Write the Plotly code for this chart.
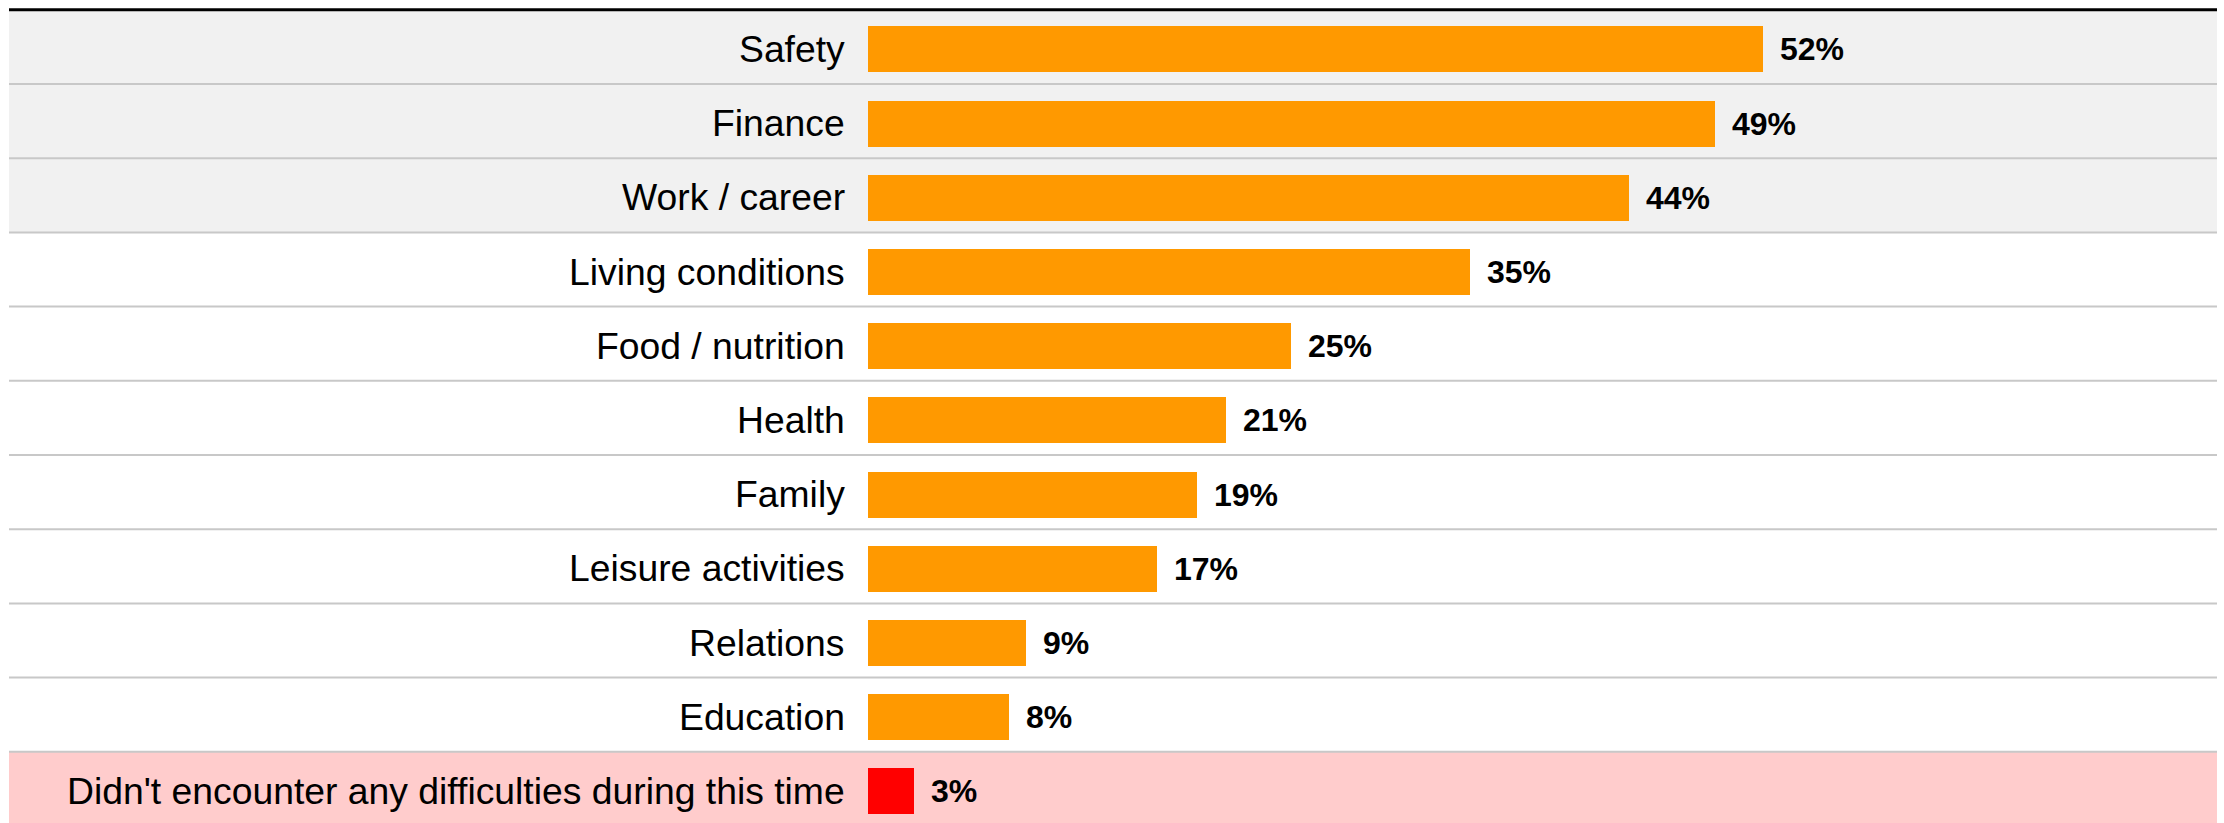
import plotly.graph_objects as go

categories = [
    "Safety", "Finance", "Work / career", "Living conditions", "Food / nutrition",
    "Health", "Family", "Leisure activities", "Relations", "Education",
    "Didn't encounter any difficulties during this time",
]
values = [52.0, 49.2, 44.2, 35.0, 24.6, 20.8, 19.1, 16.8, 9.2, 8.2, 2.7]
labels = [f"{round(v)}%" for v in values]
bar_colors = ["#ff9900"] * 10 + ["#ff0000"]
row_fills = ["#f1f1f1"] * 3 + [None] * 7 + ["#ffcccc"]

W, H = 2224, 823
px_per_unit = 17.21
x0_px = 868
row_h = 74.2
top_px = 9.8

ypos = list(range(len(categories)))

fig = go.Figure()
fig.add_trace(go.Bar(
    x=values, y=ypos, orientation="h",
    marker=dict(color=bar_colors, line=dict(width=0)),
    width=0.62, offset=-0.31 + 2.5 / row_h,
    hoverinfo="skip",
))

shapes = []
x_left, x_right = 9 / W, 2217 / W
for i, f in enumerate(row_fills):
    if f:
        shapes.append(dict(type="rect", xref="paper", yref="y", x0=x_left, x1=x_right,
                           y0=i - 0.5, y1=i + 0.5, fillcolor=f, line=dict(width=0), layer="below"))
for i in range(len(categories) - 1):
    shapes.append(dict(type="line", xref="paper", yref="y", x0=x_left, x1=x_right,
                       y0=i + 0.5, y1=i + 0.5, line=dict(color="#c8c8c8", width=2), layer="below"))
shapes.append(dict(type="line", xref="paper", yref="y", x0=x_left, x1=x_right,
                   y0=-0.5, y1=-0.5, line=dict(color="#000000", width=3), layer="above"))

annotations = []
for i, (c, v, lab) in enumerate(zip(categories, values, labels)):
    annotations.append(dict(x=0, y=i + 2.0 / row_h, xref="x", yref="y", text=c, showarrow=False,
                            xanchor="right", yanchor="middle", xshift=-21,
                            font=dict(family="Liberation Sans, Arial, sans-serif", size=37.3, color="#000")))
    annotations.append(dict(x=v, y=i + 2.5 / row_h, xref="x", yref="y", text=f"<b>{lab}</b>", showarrow=False,
                            xanchor="left", yanchor="middle", xshift=15,
                            font=dict(family="Liberation Sans, Arial, sans-serif", size=32, color="#000")))

xmin = -x0_px / px_per_unit
xmax = (W - x0_px) / px_per_unit
ytop = -0.5 - top_px / row_h
ybot = -0.5 + (H - top_px) / row_h

fig.update_layout(
    width=W, height=H,
    margin=dict(l=0, r=0, t=0, b=0),
    paper_bgcolor="white", plot_bgcolor="white",
    showlegend=False,
    xaxis=dict(range=[xmin, xmax], visible=False, fixedrange=True),
    yaxis=dict(range=[ybot, ytop], visible=False, fixedrange=True),
    shapes=shapes, annotations=annotations,
    bargap=0,
)

fig.write_html("out.html", config={"displayModeBar": False},
               post_script="document.body.style.margin='0';document.body.style.overflow='hidden';")
